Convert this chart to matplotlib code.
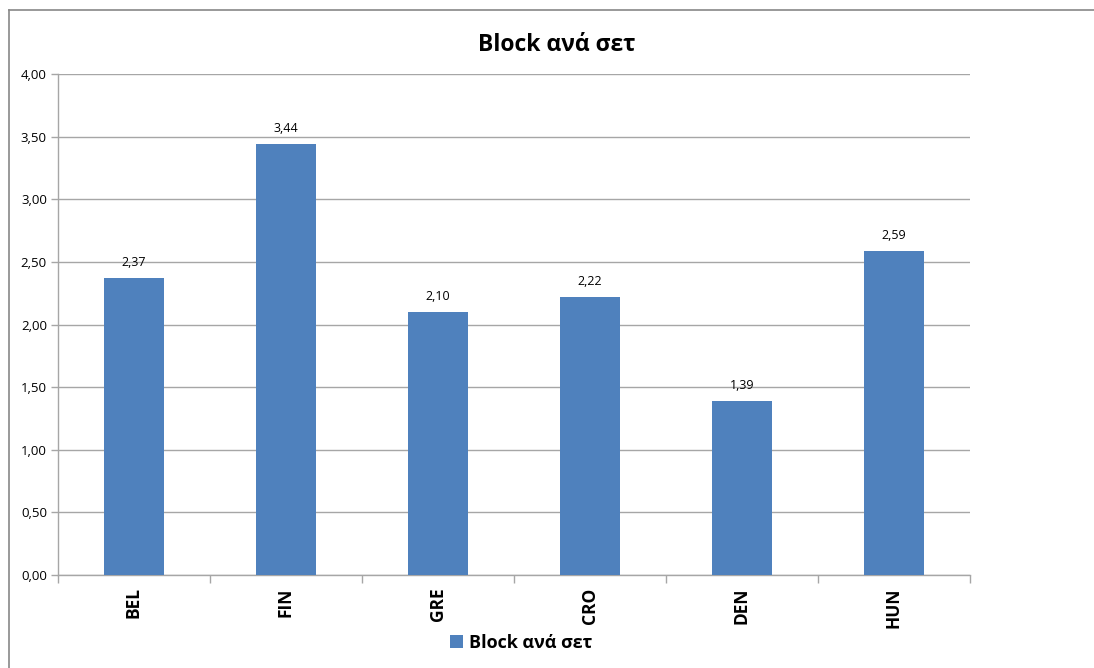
import matplotlib
matplotlib.use('Agg')
import matplotlib.pyplot as plt
from matplotlib.lines import Line2D
import numpy as np

plt.rcParams['font.family'] = ['Open Sans', 'DejaVu Sans']

# ---- data ----
teams = ['BEL', 'FIN', 'GRE', 'CRO', 'DEN', 'HUN']
blocks_per_set = [2.37, 3.44, 2.10, 2.22, 1.39, 2.59]
series_name = 'Block ανά σετ'
y_ticks = [0.0, 0.5, 1.0, 1.5, 2.0, 2.5, 3.0, 3.5, 4.0]

bar_col = '#4f81bd'
grid_col = '#a6a6a6'

fig = plt.figure(figsize=(10.94, 6.68), dpi=100)
ax = fig.add_axes([58/1094, 1-575/668, (970-58)/1094, (575-74)/668])

x = np.arange(len(teams))
bars = ax.bar(x, blocks_per_set, width=0.4, color=bar_col, zorder=3, label=series_name)

for xi, v in zip(x, blocks_per_set):
    ax.text(xi, v + 0.07, f'{v:.2f}'.replace('.', ','), ha='center', va='bottom', fontsize=9)

ax.set_xlim(-0.5, len(teams) - 0.5)
ax.set_ylim(0, 4)
ax.set_yticks(y_ticks)
ax.set_yticklabels([f'{t:.2f}'.replace('.', ',') for t in y_ticks], fontsize=9.5)
ax.yaxis.grid(True, color=grid_col, linewidth=1)
ax.set_axisbelow(True)

# category labels sit at the bar centres, tick marks at the boundaries
ax.set_xticks(x)
ax.set_xticklabels(teams, rotation=90, fontsize=12.5, fontweight='bold')
ax.tick_params(axis='x', length=0, pad=9)
ax.set_xticks(np.arange(len(teams) + 1) - 0.5, minor=True)
ax.tick_params(axis='x', which='minor', length=6, color=grid_col, width=1)
ax.tick_params(axis='y', length=5, color=grid_col, width=1, pad=3)

for s in ['top', 'right']:
    ax.spines[s].set_visible(False)
for s in ['left', 'bottom']:
    ax.spines[s].set_color(grid_col)
    ax.spines[s].set_linewidth(1)

fig.text(557/1094, 1-45/668, series_name, ha='center', va='center', fontsize=16.5, fontweight='bold')

leg = fig.legend(handles=[bars], labels=[series_name], loc='center', bbox_to_anchor=(521/1094, 1-643/668),
                 frameon=False, handlelength=0.7, handleheight=0.7, handletextpad=0.35,
                 prop={'weight': 'bold', 'size': 13})

# outer chart frame
fig.add_artist(Line2D([9/1094, 9/1094], [0, 1-10/668], color='#888888', linewidth=1.2))
fig.add_artist(Line2D([9/1094, 1], [1-10/668, 1-10/668], color='#888888', linewidth=1.2))

fig.savefig('out.png', dpi=100)
